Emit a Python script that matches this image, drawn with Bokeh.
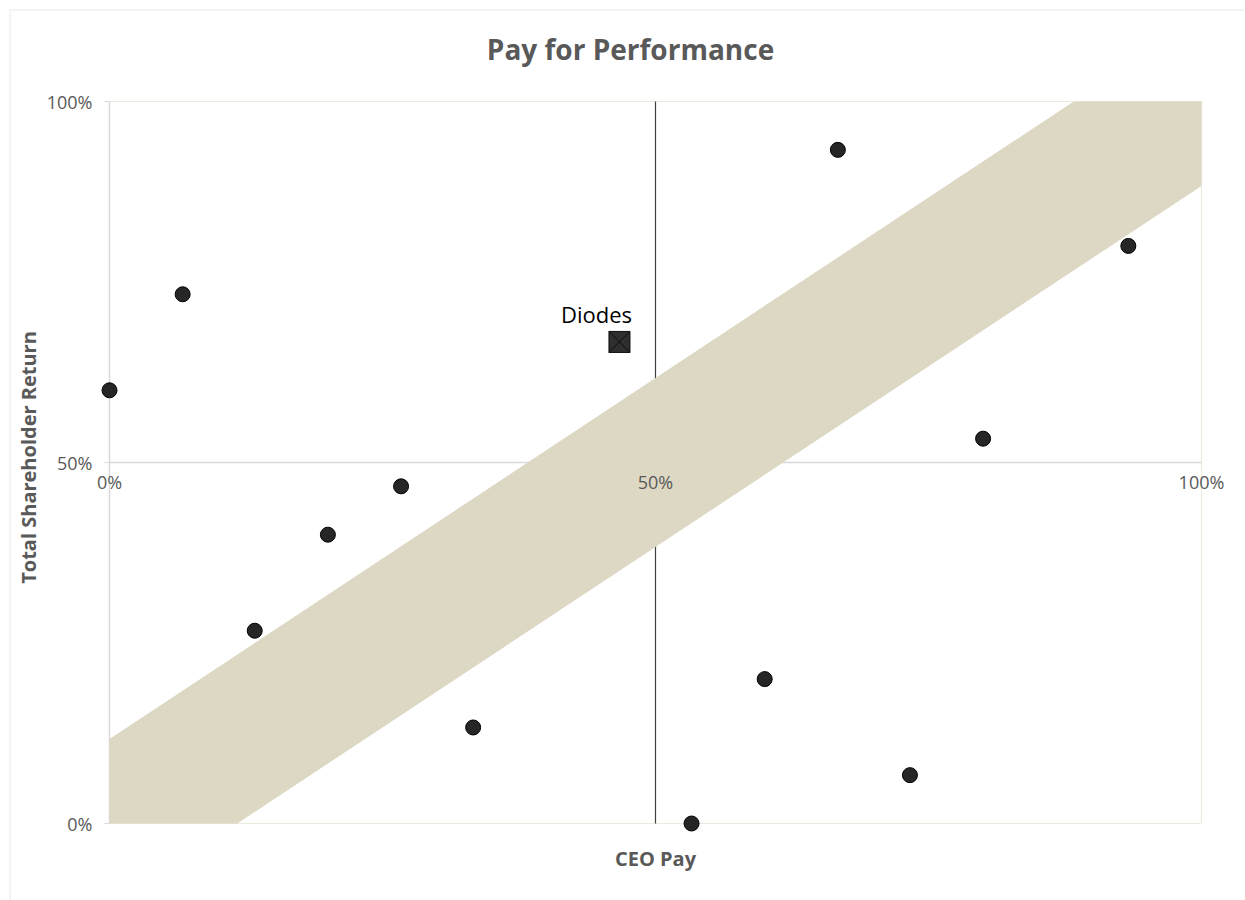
import math
from bokeh.plotting import figure
from bokeh.models import (Range1d, LinearAxis, FixedTicker, NumeralTickFormatter,
                          Label, BoxAnnotation, ColumnDataSource)
from bokeh.core.properties import value
from bokeh.embed import file_html
from bokeh.resources import INLINE

# ---- data (percentile ranks) ----
ceo_pay = [0.0, 0.067, 0.133, 0.200, 0.267, 0.333, 0.533, 0.600, 0.667, 0.733, 0.800, 0.933]
tsr     = [0.600, 0.733, 0.267, 0.400, 0.467, 0.133, 0.000, 0.200, 0.933, 0.067, 0.533, 0.800]
diodes_pay = [0.467]
diodes_tsr = [0.667]
diodes_name = ["Diodes"]
band_halfwidth = 0.117
tick_values = [0.0, 0.5, 1.0]

FONT = "Open Sans"
GRAY = "#595959"

# ---- layout: the frame fills the canvas; plot box is mapped to [0,1] x [0,1]
W, H = 1245, 900
BOX_L, BOX_R, BOX_T, BOX_B = 109, 1201, 101, 823
sx = (BOX_R - BOX_L)
sy = (BOX_B - BOX_T)
x_rng = Range1d(-BOX_L / sx, 1 + (W - BOX_R) / sx)
y_rng = Range1d(-(H - BOX_B) / sy, 1 + BOX_T / sy)

def px_x(px):
    return (px - BOX_L) / sx

def px_y(py):
    return (BOX_B - py) / sy

p = figure(width=W, height=H, output_backend="svg", toolbar_location=None,
           x_range=x_rng, y_range=y_rng,
           min_border=0, min_border_left=0, min_border_right=0,
           min_border_top=0, min_border_bottom=0,
           x_axis_type=None, y_axis_type=None)
p.outline_line_color = None
p.background_fill_color = "white"
p.border_fill_color = "white"
p.xgrid.visible = False
p.ygrid.visible = False

# plot-area frame lines (top / right / bottom light, left = gray axis)
p.segment(x0=[0, 1, 0], y0=[1, 0, 0], x1=[1, 1, 1], y1=[1, 1, 0],
          line_color="#ecebdf", line_width=1.2)
p.segment(x0=[0], y0=[0], x1=[0], y1=[1], line_color="#d9d9d9", line_width=1.5)
# crossing lines at 50%
p.segment(x0=[0], y0=[0.5], x1=[1], y1=[0.5], line_color="#d9d9d9", line_width=1.5)
p.segment(x0=[0.5], y0=[0], x1=[0.5], y1=[1], line_color="#404040", line_width=1.2)

# band (diagonal, clipped to the unit square)
h = band_halfwidth
p.patch(x=[0, 0, 1 - h, 1, 1, h], y=[0, h, 1, 1, 1 - h, 0],
        fill_color="#ddd8c4", line_color=None)

# peers
p.scatter(x=ceo_pay, y=tsr, size=15, marker="circle",
          fill_color="#262626", line_color="#000000", line_width=1)

# Diodes
src = ColumnDataSource(dict(x=diodes_pay, y=diodes_tsr, name=diodes_name))
p.scatter(x="x", y="y", source=src, marker="square_x", size=21,
          fill_color="#2e2e2e", line_color="#0d0d0d", line_width=1)
p.text(x="x", y="y", text="name", source=src, x_offset=-23, y_offset=-28,
       text_align="center", text_baseline="alphabetic",
       text_font=value(FONT), text_font_size="22px", text_color="#000000")

# y axis (fixed at x = 0)
yax = LinearAxis(ticker=FixedTicker(ticks=tick_values),
                 formatter=NumeralTickFormatter(format="0%"), fixed_location=0)
yax.axis_line_color = None
yax.major_tick_line_color = "#d9d9d9"
yax.major_tick_out = 5
yax.major_tick_in = 0
yax.minor_tick_line_color = None
yax.major_label_standoff = 12
yax.major_label_text_font = FONT
yax.major_label_text_font_size = "18px"
yax.major_label_text_color = GRAY
p.add_layout(yax, "left")

# x axis tick labels on the 50% line
xax2 = LinearAxis(ticker=FixedTicker(ticks=tick_values),
                  formatter=NumeralTickFormatter(format="0%"), fixed_location=0.5)
xax2.axis_line_color = None
xax2.major_tick_line_color = None
xax2.minor_tick_line_color = None
xax2.major_tick_out = 0
xax2.major_tick_in = 0
xax2.major_label_standoff = 7
xax2.major_label_text_font = FONT
xax2.major_label_text_font_size = "18px"
xax2.major_label_text_color = GRAY
p.add_layout(xax2, "below")

# axis titles
p.add_layout(Label(x=0.5, y=px_y(858), text="CEO Pay", text_align="center",
                   text_baseline="middle", text_font=FONT, text_font_style="bold",
                   text_font_size="20px", text_color=GRAY))
p.add_layout(Label(x=px_x(28), y=px_y(457), text="Total Shareholder Return",
                   angle=math.pi / 2, text_align="center", text_baseline="middle",
                   text_font=FONT, text_font_style="bold",
                   text_font_size="20px", text_color=GRAY))

# title
p.add_layout(Label(x=px_x(630), y=px_y(48), text="Pay for Performance",
                   text_align="center", text_baseline="middle", text_font=FONT,
                   text_font_style="bold", text_font_size="28px", text_color=GRAY))

# outer chart border
p.add_layout(BoxAnnotation(left=px_x(9.5), right=1.5, top=px_y(9.5), bottom=-0.5,
                           fill_alpha=0, line_color="#d9d9d9", line_width=2))

open("out.html", "w").write(file_html(p, INLINE))
